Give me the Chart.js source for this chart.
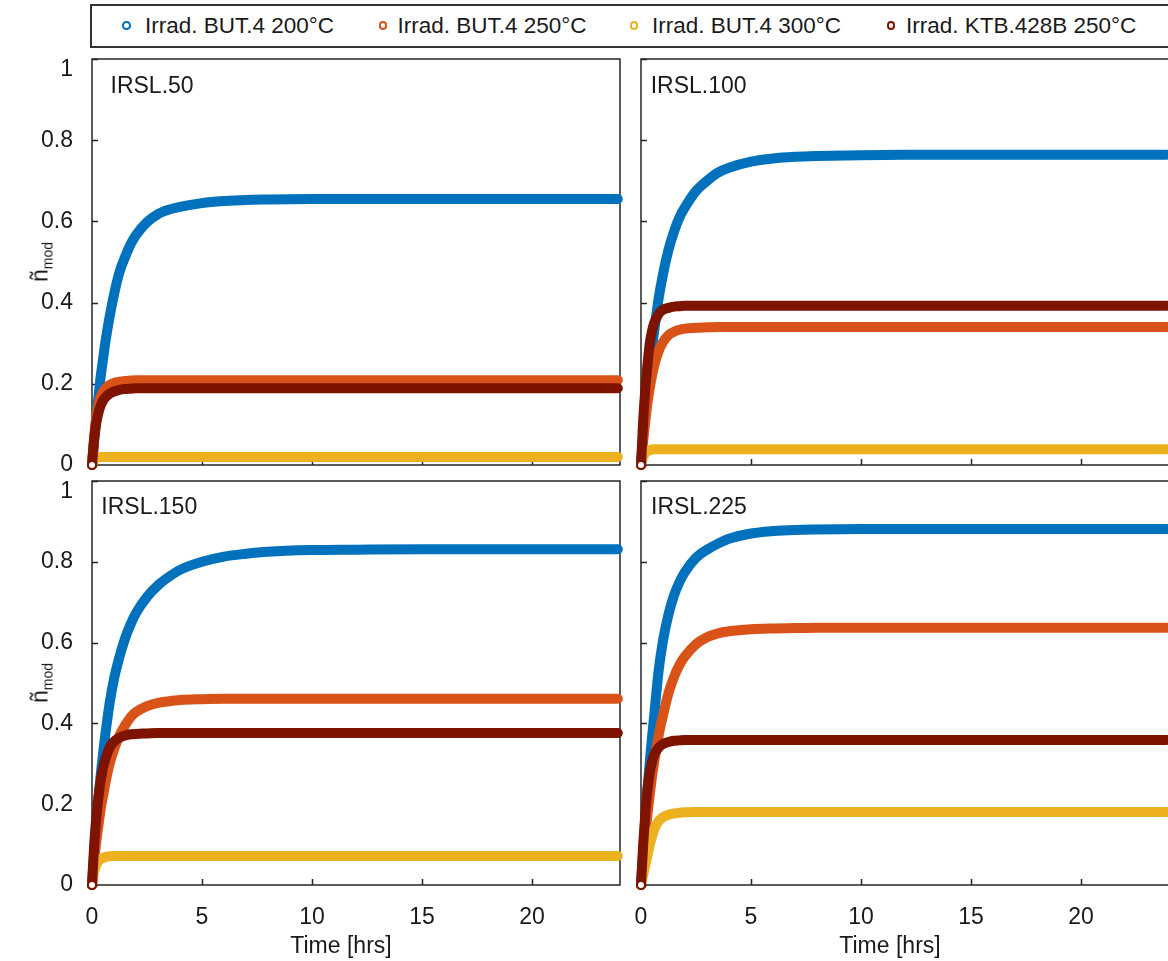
<!DOCTYPE html>
<html>
<head>
<meta charset="utf-8">
<script src="https://cdn.jsdelivr.net/npm/chart.js@4.4.0/dist/chart.umd.min.js"></script>
<style>
  html, body { margin: 0; padding: 0; width: 1168px; height: 961px; overflow: hidden; background: #fff;
    font-family: "Liberation Sans", Arial, Helvetica, sans-serif; color: #1a1a1a; }
  canvas { position: absolute; }
  #legendBox { position: absolute; left: 90px; top: 4px; width: 1120px; height: 40px; border: 2px solid #333; }
  .lgDot { position: absolute; width: 4.5px; height: 4.5px; border: 2.4px solid; border-radius: 50%; }
  .lgText { position: absolute; font-size: 22.5px; line-height: 26px; white-space: nowrap; }
  .ylab { position: absolute; font-size: 23px; white-space: nowrap; transform: translate(-50%, -50%) rotate(-90deg); }
  .ylab sub { font-size: 14px; vertical-align: -5px; }
</style>
</head>
<body>
<div id="legendBox"></div>
<canvas id="pTL" width="630" height="425" style="left:0;top:50px"></canvas>
<canvas id="pTR" width="560" height="425" style="left:630px;top:50px"></canvas>
<canvas id="pBL" width="630" height="486" style="left:0;top:475px"></canvas>
<canvas id="pBR" width="560" height="486" style="left:630px;top:475px"></canvas>
<div class="ylab" style="left:41px;top:262px">ñ<sub>mod</sub></div>
<div class="ylab" style="left:41px;top:683px">ñ<sub>mod</sub></div>
<script>
// Irradiation time of the samples, hours
const hours = [0, 0.1, 0.2, 0.3, 0.4, 0.5, 0.6, 0.8, 1, 1.25, 1.5, 1.75, 2, 2.5, 3, 3.5, 4, 5, 6, 7, 8, 10, 12, 15, 18, 21, 23.9];

const seriesNames = ['Irrad. BUT.4 200°C', 'Irrad. BUT.4 250°C', 'Irrad. BUT.4 300°C', 'Irrad. KTB.428B 250°C'];
const seriesColors = ['#0072BD', '#D95319', '#EDB120', '#7E1300'];

// IRSL.50
const irsl50_but4_200 = [0, 0.06, 0.12, 0.17, 0.22, 0.26, 0.30, 0.365, 0.42, 0.475, 0.512, 0.543, 0.566, 0.598, 0.618, 0.629, 0.636, 0.645, 0.650, 0.653, 0.654, 0.655, 0.655, 0.655, 0.655, 0.655, 0.655];
const irsl50_but4_250 = [0, 0.07, 0.12, 0.15, 0.168, 0.18, 0.188, 0.197, 0.202, 0.205, 0.207, 0.208, 0.209, 0.209, 0.209, 0.209, 0.209, 0.209, 0.209, 0.209, 0.209, 0.209, 0.209, 0.209, 0.209, 0.209, 0.209];
const irsl50_but4_300 = [0, 0.012, 0.017, 0.019, 0.02, 0.02, 0.02, 0.02, 0.02, 0.02, 0.02, 0.02, 0.02, 0.02, 0.02, 0.02, 0.02, 0.02, 0.02, 0.02, 0.02, 0.02, 0.02, 0.02, 0.02, 0.02, 0.02];
const irsl50_ktb_250 = [0, 0.065, 0.105, 0.13, 0.147, 0.158, 0.166, 0.176, 0.181, 0.185, 0.187, 0.188, 0.189, 0.189, 0.189, 0.189, 0.189, 0.189, 0.189, 0.189, 0.189, 0.189, 0.189, 0.189, 0.189, 0.189, 0.189];

// IRSL.100
const irsl100_but4_200 = [0, 0.07, 0.13, 0.19, 0.24, 0.29, 0.33, 0.41, 0.47, 0.53, 0.575, 0.61, 0.635, 0.675, 0.70, 0.72, 0.732, 0.747, 0.755, 0.759, 0.761, 0.763, 0.764, 0.764, 0.764, 0.764, 0.764];
const irsl100_but4_250 = [0, 0.06, 0.11, 0.155, 0.19, 0.22, 0.245, 0.28, 0.303, 0.32, 0.328, 0.333, 0.336, 0.338, 0.339, 0.34, 0.34, 0.34, 0.34, 0.34, 0.34, 0.34, 0.34, 0.34, 0.34, 0.34, 0.34];
const irsl100_but4_300 = [0, 0.02, 0.03, 0.035, 0.037, 0.038, 0.039, 0.039, 0.039, 0.039, 0.039, 0.039, 0.039, 0.039, 0.039, 0.039, 0.039, 0.039, 0.039, 0.039, 0.039, 0.039, 0.039, 0.039, 0.039, 0.039, 0.039];
const irsl100_ktb_250 = [0, 0.11, 0.19, 0.25, 0.30, 0.33, 0.35, 0.372, 0.382, 0.387, 0.39, 0.391, 0.392, 0.392, 0.392, 0.392, 0.392, 0.392, 0.392, 0.392, 0.392, 0.392, 0.392, 0.392, 0.392, 0.392, 0.392];

// IRSL.150
const irsl150_but4_200 = [0, 0.08, 0.155, 0.22, 0.275, 0.325, 0.37, 0.45, 0.51, 0.565, 0.61, 0.645, 0.673, 0.713, 0.742, 0.763, 0.78, 0.80, 0.813, 0.82, 0.825, 0.829, 0.83, 0.831, 0.831, 0.831, 0.831];
const irsl150_but4_250 = [0, 0.06, 0.11, 0.15, 0.19, 0.22, 0.25, 0.30, 0.335, 0.37, 0.395, 0.415, 0.428, 0.443, 0.451, 0.455, 0.458, 0.46, 0.461, 0.461, 0.461, 0.461, 0.461, 0.461, 0.461, 0.461, 0.461];
const irsl150_but4_300 = [0, 0.035, 0.05, 0.06, 0.065, 0.067, 0.069, 0.071, 0.072, 0.072, 0.072, 0.072, 0.072, 0.072, 0.072, 0.072, 0.072, 0.072, 0.072, 0.072, 0.072, 0.072, 0.072, 0.072, 0.072, 0.072, 0.072];
const irsl150_ktb_250 = [0, 0.10, 0.17, 0.22, 0.26, 0.29, 0.31, 0.34, 0.355, 0.365, 0.37, 0.373, 0.374, 0.375, 0.376, 0.376, 0.376, 0.376, 0.376, 0.376, 0.376, 0.376, 0.376, 0.376, 0.376, 0.376, 0.376];

// IRSL.225
const irsl225_but4_200 = [0, 0.085, 0.165, 0.24, 0.305, 0.365, 0.42, 0.53, 0.605, 0.67, 0.717, 0.75, 0.775, 0.81, 0.83, 0.845, 0.857, 0.87, 0.876, 0.879, 0.88, 0.881, 0.881, 0.881, 0.881, 0.881, 0.881];
const irsl225_but4_250 = [0, 0.066, 0.125, 0.178, 0.225, 0.268, 0.305, 0.37, 0.42, 0.475, 0.515, 0.545, 0.566, 0.596, 0.613, 0.623, 0.628, 0.633, 0.635, 0.636, 0.637, 0.637, 0.637, 0.637, 0.637, 0.637, 0.637];
const irsl225_but4_300 = [0, 0.025, 0.05, 0.075, 0.10, 0.12, 0.138, 0.158, 0.168, 0.174, 0.177, 0.179, 0.18, 0.181, 0.181, 0.181, 0.181, 0.181, 0.181, 0.181, 0.181, 0.181, 0.181, 0.181, 0.181, 0.181, 0.181];
const irsl225_ktb_250 = [0, 0.10, 0.18, 0.24, 0.28, 0.305, 0.322, 0.34, 0.349, 0.354, 0.357, 0.358, 0.359, 0.359, 0.359, 0.359, 0.359, 0.359, 0.359, 0.359, 0.359, 0.359, 0.359, 0.359, 0.359, 0.359, 0.359];

const yTicks = { min: 0, max: 1, step: 0.2 };
const xTicks = { min: 0, max: 24, step: 5 };

const FONT = '"Liberation Sans", Arial, Helvetica, sans-serif';
const INK = '#1a1a1a';

// Legend (HTML): marker centre x, text left x
const legendSlots = [[127, 145], [383.5, 397.5], [634.5, 652], [891.5, 906]];
legendSlots.forEach(([cx, tx], k) => {
  const d = document.createElement('div');
  d.className = 'lgDot';
  d.style.left = (cx - 4.65) + 'px';
  d.style.top = (26 - 4.65) + 'px';
  d.style.borderColor = seriesColors[k];
  document.body.appendChild(d);
  const t = document.createElement('div');
  t.className = 'lgText';
  t.style.left = tx + 'px';
  t.style.top = '13.2px';
  t.textContent = seriesNames[k];
  document.body.appendChild(t);
});

// Box frame with inward ticks, panel name and x-axis title
const panelFrame = {
  id: 'panelFrame',
  beforeDatasetsDraw(chart, args, opts) {
    const { ctx, chartArea: a, scales: { x, y } } = chart;
    ctx.save();
    ctx.strokeStyle = '#262626';
    ctx.lineWidth = 1.5;
    ctx.strokeRect(a.left, a.top, a.right - a.left, a.bottom - a.top);
    ctx.beginPath();
    x.ticks.forEach(t => {
      const px = Math.round(x.getPixelForValue(t.value)) + 0.5;
      ctx.moveTo(px, a.bottom); ctx.lineTo(px, a.bottom - 6);
    });
    y.ticks.forEach(t => {
      const py = Math.round(y.getPixelForValue(t.value)) + 0.5;
      ctx.moveTo(a.left, py); ctx.lineTo(a.left + 6, py);
    });
    ctx.stroke();
    ctx.restore();
  },
  afterDraw(chart, args, opts) {
    const { ctx, chartArea: a } = chart;
    ctx.save();
    ctx.fillStyle = INK;
    ctx.font = '23px ' + FONT;
    ctx.textBaseline = 'alphabetic';
    ctx.textAlign = 'left';
    ctx.fillText(opts.name, a.left + opts.dx, a.top + opts.dy);
    if (opts.xTitle) {
      ctx.textAlign = 'center';
      ctx.fillText(opts.xTitle, a.left + opts.xTitleDx, a.bottom + 68);
    }
    ctx.restore();
  }
};

function makePanel(id, name, values, cfg) {
  return new Chart(document.getElementById(id), {
    type: 'line',
    data: {
      datasets: values.map((vals, k) => ({
        label: seriesNames[k],
        data: hours.map((t, i) => ({ x: t, y: vals[i] })),
        borderColor: seriesColors[k],
        borderWidth: 10,
        borderCapStyle: 'round',
        borderJoinStyle: 'round',
        cubicInterpolationMode: 'monotone',
        pointRadius: c => (c.dataIndex === 0 ? 4 : 0),
        pointBorderWidth: 2,
        pointBorderColor: seriesColors[k],
        pointBackgroundColor: '#ffffff',
        order: values.length - k,
        clip: 8
      }))
    },
    plugins: [panelFrame],
    options: {
      responsive: false,
      animation: false,
      events: [],
      layout: { padding: { top: cfg.padTop, right: cfg.padRight, bottom: 0, left: 0 } },
      plugins: {
        legend: { display: false },
        tooltip: { enabled: false },
        panelFrame: { name, dx: cfg.dx, dy: cfg.dy, xTitle: cfg.xLabels ? 'Time [hrs]' : null, xTitleDx: 249 }
      },
      scales: {
        x: {
          type: 'linear',
          min: xTicks.min, max: xTicks.max,
          // fixed axis band; labels may overhang the panel edges
          afterFit: s => { s.height = cfg.xHeight; s.paddingLeft = 0; s.paddingRight = 0; },
          grid: { display: false, drawTicks: false },
          border: { display: false },
          ticks: {
            display: cfg.xLabels, stepSize: xTicks.step, includeBounds: false,
            padding: 19, color: INK, maxRotation: 0,
            font: { family: FONT, size: 23 }
          }
        },
        y: {
          type: 'linear',
          min: yTicks.min, max: yTicks.max,
          afterFit: s => { s.width = cfg.yWidth; s.paddingTop = 0; s.paddingBottom = 0; },
          grid: { display: false, drawTicks: false },
          border: { display: false },
          ticks: {
            display: cfg.yLabels, stepSize: yTicks.step, padding: 19, color: INK,
            font: { family: FONT, size: 23, lineHeight: 0.9 },
            // the top label sits just below the frame corner
            callback: v => (Math.abs(v - 1) < 1e-9 ? ['', '1'] : String(Math.round(v * 10) / 10))
          }
        }
      }
    }
  });
}

makePanel('pTL', 'IRSL.50', [irsl50_but4_200, irsl50_but4_250, irsl50_but4_300, irsl50_ktb_250],
  { padTop: 9, padRight: 10, xHeight: 10, yWidth: 92, xLabels: false, yLabels: true, dx: 18.5, dy: 34 });
makePanel('pTR', 'IRSL.100', [irsl100_but4_200, irsl100_but4_250, irsl100_but4_300, irsl100_ktb_250],
  { padTop: 9, padRight: 21, xHeight: 10, yWidth: 11, xLabels: false, yLabels: false, dx: 9.7, dy: 34 });
makePanel('pBL', 'IRSL.150', [irsl150_but4_200, irsl150_but4_250, irsl150_but4_300, irsl150_ktb_250],
  { padTop: 6, padRight: 10, xHeight: 76, yWidth: 92, xLabels: true, yLabels: true, dx: 9.3, dy: 33 });
makePanel('pBR', 'IRSL.225', [irsl225_but4_200, irsl225_but4_250, irsl225_but4_300, irsl225_ktb_250],
  { padTop: 6, padRight: 21, xHeight: 76, yWidth: 11, xLabels: true, yLabels: false, dx: 10, dy: 32.5 });
</script>
</body>
</html>
